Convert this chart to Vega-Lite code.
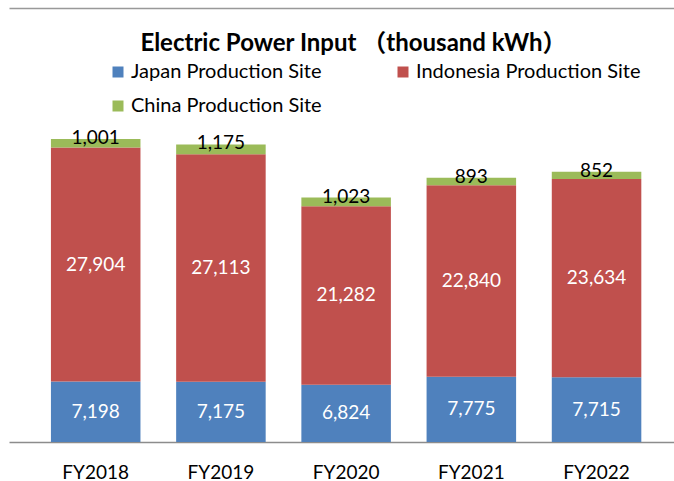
{
  "$schema": "https://vega.github.io/schema/vega-lite/v6.json",
  "width": 665,
  "height": 473,
  "autosize": {"type": "none"},
  "padding": {"left": 9, "top": 8, "right": 0, "bottom": 0},
  "background": "white",
  "title": {
    "text": "Electric Power Input （thousand kWh）",
    "font": "Lato, Noto Sans CJK JP",
    "fontSize": 24,
    "fontWeight": "bold",
    "color": "black",
    "anchor": "middle",
    "frame": "group",
    "baseline": "middle",
    "offset": -60,
    "dx": 12
  },
  "data": {
    "values": [
      {"year": "FY2018", "site": "Japan Production Site", "value": 7198},
      {"year": "FY2018", "site": "Indonesia Production Site", "value": 27904},
      {"year": "FY2018", "site": "China Production Site", "value": 1001},
      {"year": "FY2019", "site": "Japan Production Site", "value": 7175},
      {"year": "FY2019", "site": "Indonesia Production Site", "value": 27113},
      {"year": "FY2019", "site": "China Production Site", "value": 1175},
      {"year": "FY2020", "site": "Japan Production Site", "value": 6824},
      {"year": "FY2020", "site": "Indonesia Production Site", "value": 21282},
      {"year": "FY2020", "site": "China Production Site", "value": 1023},
      {"year": "FY2021", "site": "Japan Production Site", "value": 7775},
      {"year": "FY2021", "site": "Indonesia Production Site", "value": 22840},
      {"year": "FY2021", "site": "China Production Site", "value": 893},
      {"year": "FY2022", "site": "Japan Production Site", "value": 7715},
      {"year": "FY2022", "site": "Indonesia Production Site", "value": 23634},
      {"year": "FY2022", "site": "China Production Site", "value": 852}
    ]
  },
  "layer": [
    {
      "mark": {"type": "bar"},
      "encoding": {
        "x": {
          "field": "year",
          "type": "nominal",
          "scale": {"paddingInner": 0.285, "paddingOuter": 0.298, "align": 0.562},
          "axis": {
            "orient": "bottom",
            "title": null,
            "labelAngle": 0,
            "labelFont": "Lato",
            "labelFontSize": 19,
            "labelColor": "black",
            "ticks": false,
            "labelPadding": 21,
            "offset": -39,
            "domain": true,
            "domainColor": "#8c8c8c",
            "domainWidth": 1.5,
            "grid": false
          }
        },
        "y": {
          "field": "value",
          "type": "quantitative",
          "stack": "zero",
          "scale": {"domain": [-4648, 51729], "nice": false, "zero": false},
          "axis": {
            "orient": "left",
            "title": null,
            "labels": false,
            "ticks": false,
            "grid": false,
            "domain": true,
            "domainColor": "#999999",
            "domainWidth": 1.3
          }
        },
        "color": {
          "field": "site",
          "type": "nominal",
          "scale": {
            "domain": ["Japan Production Site", "Indonesia Production Site", "China Production Site"],
            "range": ["#4F81BD", "#C0504D", "#9BBB59"]
          },
          "legend": {
            "orient": "none",
            "direction": "horizontal",
            "legendX": 99,
            "legendY": 54,
            "columns": 2,
            "columnPadding": 71,
            "rowPadding": 14,
            "padding": 0,
            "title": null,
            "symbolType": "square",
            "symbolSize": 121,
            "symbolStrokeWidth": 0,
            "labelFont": "Lato",
            "labelFontSize": 20,
            "labelColor": "black",
            "labelOffset": 3,
            "labelLimit": 400
          }
        },
        "order": {"field": "site", "sort": "descending"}
      }
    },
    {
      "transform": [{"filter": "datum.site !== 'China Production Site'"}],
      "mark": {"type": "text", "font": "Lato", "fontSize": 19, "baseline": "middle", "align": "center", "color": "white"},
      "encoding": {
        "x": {
          "field": "year",
          "type": "nominal",
          "axis": {
            "orient": "top",
            "title": null,
            "labels": false,
            "ticks": false,
            "grid": false,
            "domain": true,
            "domainColor": "#999999",
            "domainWidth": 1.3
          }
        },
        "y": {
          "field": "value",
          "type": "quantitative",
          "stack": "zero",
          "bandPosition": 0.5,
          "axis": null
        },
        "detail": {"field": "site"},
        "order": {"field": "site", "sort": "descending"},
        "text": {"field": "value", "type": "quantitative", "format": ","}
      }
    },
    {
      "transform": [
        {"stack": "value", "groupby": ["year"], "sort": [{"field": "site", "order": "descending"}], "as": ["v0", "v1"]},
        {"filter": "datum.site === 'China Production Site'"}
      ],
      "mark": {"type": "text", "font": "Lato", "fontSize": 19, "baseline": "middle", "align": "center", "color": "black", "dy": -1},
      "encoding": {
        "x": {"field": "year", "type": "nominal", "axis": null},
        "y": {"field": "v1", "type": "quantitative", "axis": null},
        "text": {"field": "value", "type": "quantitative", "format": ","}
      }
    }
  ],
  "config": {
    "view": {"stroke": null}
  }
}
